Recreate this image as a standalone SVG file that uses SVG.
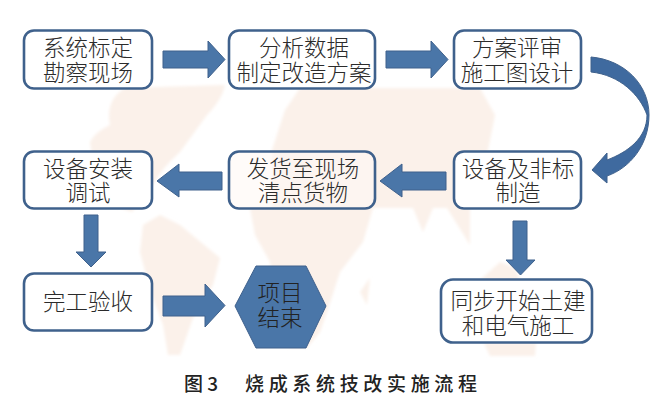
<svg xmlns="http://www.w3.org/2000/svg" width="669" height="406" viewBox="0 0 669 406">
<defs><filter id="soft" x="-5%" y="-5%" width="110%" height="110%"><feGaussianBlur stdDeviation="1.5"/></filter></defs>
<style>
.map{fill:#fbf1ea;stroke:none}
.box{fill:#fff;stroke:#3f618c;stroke-width:2.6}
.arrow{fill:#4a76a8;stroke:#3f618c;stroke-width:1}
.t{font-family:"Noto Sans CJK SC","Liberation Serif",serif;font-size:22.5px;font-weight:300;fill:#2b2b2b;text-anchor:middle}
.cap{font-family:"Noto Sans CJK SC","Liberation Sans",sans-serif;font-size:19px;font-weight:500;fill:#222}
</style>
<rect width="669" height="406" fill="#fff"/>
<g id="map" filter="url(#soft)">
<path class="map" d="M90 142Q95 132 110 125Q105 100 125 88L225 85Q222 100 207 115L180 152Q160 170 153 185L132 212L112 205L95 175Z"/>
<path class="map" d="M143 225L160 215L180 225L220 258L213 285L193 318L180 355L168 355L163 325L150 290L140 252Z"/>
<path class="map" d="M250 208L373 208L363 242L340 272L327 312L320 332L307 348L290 348L275 300L270 262L255 235Z"/>
<path class="map" d="M360 292L370 278L367 305Z"/>
<path class="map" d="M272 150L285 110L300 88L480 88L495 115L488 150L470 180L470 245L447 208L433 208L423 232L413 208L272 208Z"/>
<path class="map" d="M500 262L515 268L520 280L480 280Z"/>
<path class="map" d="M484 343L536 343L535 356L490 356Z"/>
</g>
<g id="connectors">
<path class="arrow" d="M163 51H208V41L225 59.500L208 78V68H163Z"/>
<path class="arrow" d="M386 51H431V41L448 59.500L431 78V68H386Z"/>
<path class="arrow" d="M222 172H179V164L157 181L179 197V190H222Z"/>
<path class="arrow" d="M446 172H402V164L380 181L402 197V190H446Z"/>
<path class="arrow" d="M84 215H98V252H106L91 267L76 252H84Z"/>
<path class="arrow" d="M513 221H527V260H535L520.500 275L506 260H513Z"/>
<path class="arrow" d="M163 296H205V284L225 305.500L205 327V316H163Z"/>
<path d="M591 57C625 60 649 85 649 115C649 145 630 168 607 176L607 183L592 170L607 153L607 160C628 152 647 138 647 115C640 95 620 75 591 72Z" fill="#3f6a9f" stroke="#3f618c" stroke-width="1"/>
</g>
<g id="n1"><rect class="box" x="24" y="30.500" width="128" height="58" rx="10"/><text class="t"><tspan x="88" y="56">系统标定</tspan><tspan x="88" y="81">勘察现场</tspan></text></g>
<g id="n2"><rect class="box" x="229" y="30.500" width="146" height="58" rx="10"/><text class="t"><tspan x="304" y="56">分析数据</tspan><tspan x="304" y="81">制定改造方案</tspan></text></g>
<g id="n3"><rect class="box" x="454" y="30.500" width="127" height="58" rx="10"/><text class="t"><tspan x="517" y="56">方案评审</tspan><tspan x="517" y="81">施工图设计</tspan></text></g>
<g id="n4"><rect class="box" x="454" y="151.500" width="127" height="57" rx="10"/><text class="t"><tspan x="518" y="177">设备及非标</tspan><tspan x="518" y="201">制造</tspan></text></g>
<g id="n5"><rect class="box" x="229" y="151.500" width="146" height="57" rx="10" fill-opacity="0.6" style="fill:#fff9f5"/><text class="t"><tspan x="303" y="177">发货至现场</tspan><tspan x="303" y="201">清点货物</tspan></text></g>
<g id="n6"><rect class="box" x="24" y="151.500" width="128" height="57" rx="10"/><text class="t"><tspan x="88" y="177">设备安装</tspan><tspan x="88" y="201">调试</tspan></text></g>
<g id="n7"><rect class="box" x="24" y="273.500" width="128" height="57" rx="10"/><text class="t" x="88" y="310">完工验收</text></g>
<g id="n8"><path class="arrow" d="M235 306L256 266H306L326 306L306 348H256Z"/><text class="t" style="fill:#222"><tspan x="280" y="301">项目</tspan><tspan x="280" y="326">结束</tspan></text></g>
<g id="n9"><rect class="box" x="441" y="279.500" width="151" height="63" rx="12"/><text class="t"><tspan x="518" y="309">同步开始土建</tspan><tspan x="518" y="334">和电气施工</tspan></text></g>
<g id="caption"><text class="cap" x="184" y="391">图 3</text><text class="cap" x="245" y="391" textLength="232">烧成系统技改实施流程</text></g>
</svg>
